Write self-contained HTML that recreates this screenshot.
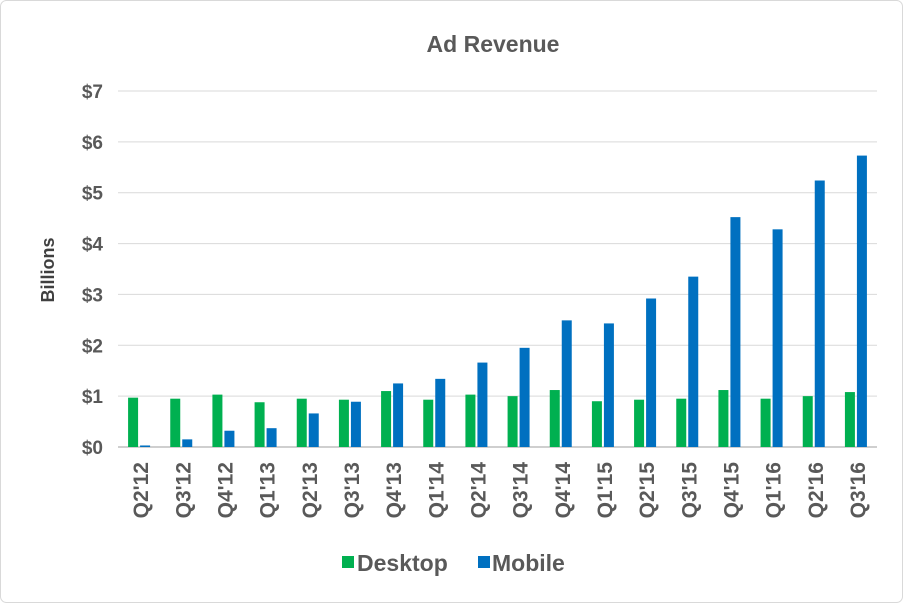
<!DOCTYPE html>
<html><head><meta charset="utf-8"><style>
body{margin:0;background:#fff;}
svg{display:block;font-family:"Liberation Sans",sans-serif;}
</style></head><body>
<svg id="chart" width="903" height="603" viewBox="0 0 903 603">
<rect x="0.5" y="0.5" width="902" height="602" rx="6" fill="#fff" stroke="#d9d9d9"/>
<text x="493" y="52" text-anchor="middle" font-size="23" font-weight="bold" fill="#595959">Ad Revenue</text>
<text transform="translate(54,270) rotate(-90)" text-anchor="middle" font-size="18" font-weight="bold" fill="#404040">Billions</text>
<g id="grid"></g><g id="bars"></g><g id="labels"></g>
<g>
<rect x="342" y="556" width="12" height="12" fill="#00B050"/>
<text x="357" y="571" font-size="23" font-weight="bold" fill="#595959">Desktop</text>
<rect x="478" y="556" width="12" height="12" fill="#0070C0"/>
<text x="492" y="571" font-size="23" font-weight="bold" fill="#595959">Mobile</text>
</g>
</svg>
<script>
const categories=["Q2'12","Q3'12","Q4'12","Q1'13","Q2'13","Q3'13","Q4'13","Q1'14","Q2'14","Q3'14","Q4'14","Q1'15","Q2'15","Q3'15","Q4'15","Q1'16","Q2'16","Q3'16"];
const desktop=[0.97,0.95,1.03,0.88,0.95,0.93,1.1,0.93,1.03,1.0,1.12,0.9,0.93,0.95,1.12,0.95,1.0,1.08];
const mobile=[0.03,0.15,0.32,0.37,0.66,0.89,1.25,1.34,1.66,1.95,2.49,2.43,2.92,3.35,4.52,4.28,5.24,5.73];
const yTicks=[0,1,2,3,4,5,6,7];
const yTickLabels=["$0","$1","$2","$3","$4","$5","$6","$7"];
const NS="http://www.w3.org/2000/svg";
const x0=118,x1=877,yBase=447,yTop=91,yMax=7;
const y=v=>yBase-(v/yMax)*(yBase-yTop);
const bw=(x1-x0)/categories.length;
const cx=i=>x0+bw*(i+0.5);
function mk(tag,attrs,parent){const e=document.createElementNS(NS,tag);for(const k in attrs)e.setAttribute(k,attrs[k]);parent.appendChild(e);return e;}
const grid=document.getElementById('grid'),bars=document.getElementById('bars'),labels=document.getElementById('labels');
yTicks.forEach((t,i)=>{
 const l=mk('line',{x1:x0,x2:x1,y1:y(t),y2:y(t),stroke:t===0?'#bfbfbf':'#d9d9d9','stroke-width':t===0?1.5:1},grid);
 
 
 const tx=mk('text',{x:103,y:y(t)+7,'text-anchor':'end','font-size':19,'font-weight':'bold',fill:'#595959'},labels);
 tx.textContent=yTickLabels[i];
 
 
});
categories.forEach((c,i)=>{
 const d=mk('rect',{x:cx(i)-11,y:y(desktop[i]),width:10,height:yBase-y(desktop[i]),fill:'#00B050'},bars);
 
 
 const m=mk('rect',{x:cx(i)+1,y:y(mobile[i]),width:10,height:yBase-y(mobile[i]),fill:'#0070C0'},bars);
 
 
 const t=mk('text',{transform:`translate(${cx(i)+9},462) rotate(-90)`,'text-anchor':'end','font-size':21,'font-weight':'bold',fill:'#595959'},labels);
 t.textContent=c;
 
 
});
</script>
</body></html>
